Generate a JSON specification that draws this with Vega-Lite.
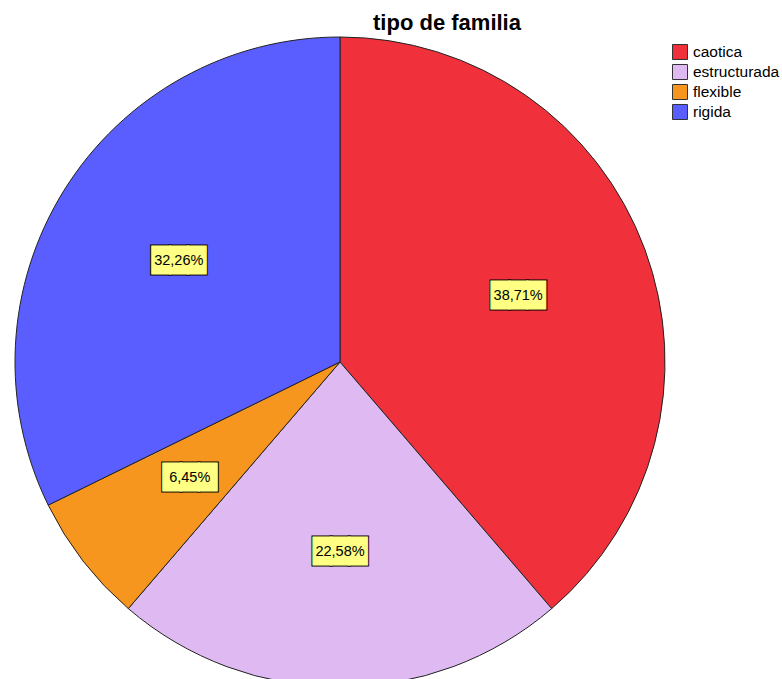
{
  "$schema": "https://vega.github.io/schema/vega-lite/v6.json",
  "width": 680,
  "height": 724,
  "autosize": {"type": "none"},
  "padding": {"left": 0, "top": 0, "right": 102, "bottom": 0},
  "background": "white",
  "title": {"text": "tipo de familia", "fontSize": 22, "fontWeight": "bold", "font": "Liberation Sans", "color": "black", "anchor": "middle", "frame": "group", "offset": 0, "baseline": "alphabetic", "dx": 107, "dy": 52},
  "data": {"values": [
    {"tipo": "caotica", "n": 12, "pct": "38,71%"},
    {"tipo": "estructurada", "n": 7, "pct": "22,58%"},
    {"tipo": "flexible", "n": 2, "pct": "6,45%"},
    {"tipo": "rigida", "n": 10, "pct": "32,26%"}
  ]},
  "encoding": {
    "theta": {"field": "n", "type": "quantitative", "stack": true},
    "order": {"field": "tipo", "type": "ordinal"}
  },
  "layer": [
    {"mark": {"type": "arc", "outerRadius": 325, "stroke": "#222222", "strokeWidth": 1},
     "encoding": {"color": {"field": "tipo", "type": "nominal",
       "scale": {"domain": ["caotica", "estructurada", "flexible", "rigida"], "range": ["#F0313B", "#DEB9F2", "#F7961E", "#5B5EFF"]},
       "legend": {"orient": "none", "legendX": 672, "legendY": 44, "title": null, "symbolType": "square", "symbolSize": 225, "symbolStrokeColor": "#333333", "symbolStrokeWidth": 1, "symbolOpacity": 1, "labelFontSize": 15.5, "labelFont": "Liberation Sans", "labelColor": "black", "rowPadding": 0, "labelOffset": 5}}}},
    {"mark": {"type": "text", "radius": 190, "fontSize": 23.5, "font": "DejaVu Sans", "color": "black", "stroke": "black", "strokeWidth": 3, "baseline": "middle"},
     "encoding": {"text": {"value": "███"}, "detail": {"field": "tipo"}}},
    {"mark": {"type": "text", "radius": 190, "fontSize": 23.5, "font": "DejaVu Sans", "color": "#FFFF84", "stroke": "#FFFF84", "strokeWidth": 1, "baseline": "middle"},
     "encoding": {"text": {"value": "███"}, "detail": {"field": "tipo"}}},
    {"mark": {"type": "text", "radius": 190, "fontSize": 14.5, "font": "Liberation Sans", "color": "black", "baseline": "middle"},
     "encoding": {"text": {"field": "pct"}, "detail": {"field": "tipo"}}}
  ],
  "config": {"view": {"stroke": null}}
}
